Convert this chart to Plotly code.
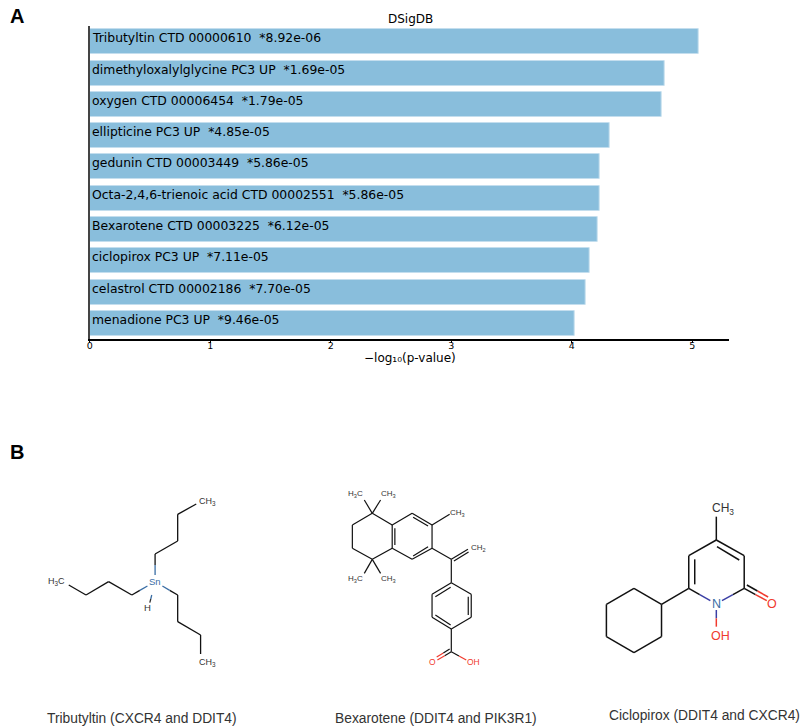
import plotly.graph_objects as go

# ---------- bar chart data ----------
terms = ["Tributyltin CTD 00000610", "dimethyloxalylglycine PC3 UP", "oxygen CTD 00006454",
         "ellipticine PC3 UP", "gedunin CTD 00003449", "Octa-2,4,6-trienoic acid CTD 00002551",
         "Bexarotene CTD 00003225", "ciclopirox PC3 UP", "celastrol CTD 00002186", "menadione PC3 UP"]
pvalues = ["8.92e-06", "1.69e-05", "1.79e-05", "4.85e-05", "5.86e-05",
           "5.86e-05", "6.12e-05", "7.11e-05", "7.70e-05", "9.46e-05"]
neglog = [5.05, 4.772, 4.747, 4.314, 4.232, 4.232, 4.213, 4.148, 4.114, 4.024]
xticks = [0, 1, 2, 3, 4, 5]

W, H = 800, 727
BLK, BLU, RED, GRY = "#111111", "#3a6ea5", "#f03a2e", "#333333"

# ---------- molecule drawings: (origin x, y), bonds as (x1,y1,x2,y2), labels (x,y,text,colour,size)
trib_origin = (30, 480)
trib_black = [(368,222,368,255),(368,222,436,183),(436,183,436,103),(436,103,492,72),
              (108,315,160,345),(160,345,228,305),(228,305,298,345),(298,345,322,331),
              (412,331,436,345),(436,345,436,425),(436,425,505,465),(505,465,505,522)]
trib_blue = [(368,255,368,285),(322,331,345,318),(390,318,412,331),(358,345,355,357)]
trib_grey = [(355,357,352,368)]
trib_labels = [(527,65,"CH<sub>3</sub>",GRY,9),(72,305,"H<sub>3</sub>C",GRY,9),(368,305,"Sn",BLU,9.5),
               (345,383,"H",GRY,9.5),(525,548,"CH<sub>3</sub>",GRY,9)]

bexa_origin = (330, 480)
bexa_black = [(122,100,62,135),(62,135,62,205),(62,205,122,238),(122,238,182,205),(182,205,182,135),(182,135,122,100),
              (182,135,242,100),(242,100,302,135),(302,135,302,205),(302,205,242,238),(242,238,182,205),
              (190,145,190,195),(245,112,290,138),(245,228,290,200),
              (302,135,355,103),(122,100,98,60),(122,100,147,60),(122,238,98,280),(122,238,147,280),
              (302,205,360,238),(360,238,410,208),(368,243,412,216),(360,238,360,308),
              (360,308,420,343),(420,343,420,412),(420,412,360,447),(360,447,302,412),(302,412,302,343),(302,343,360,308),
              (411,350,411,405),(312,405,358,435),(312,350,358,322),
              (360,447,360,515),(360,515,340,527),(355,507,336,519),(360,515,383,528)]
bexa_red = [(340,527,318,540),(336,519,316,531),(383,528,405,540)]
bexa_labels = [(70,42,"H<sub>3</sub>C",GRY,8),(172,42,"CH<sub>3</sub>",GRY,8),(380,100,"CH<sub>3</sub>",GRY,8),
               (443,205,"CH<sub>2</sub>",GRY,8),(70,297,"H<sub>3</sub>C",GRY,8),(172,297,"CH<sub>3</sub>",GRY,8),
               (302,547,"O",RED,8.5),(428,547,"OH",RED,8.5)]

cicl_origin = (595, 490)
cicl_black = [(198,343,198,440),(198,440,115,488),(115,488,32,440),(32,440,32,343),(32,343,115,295),(115,295,198,343),
              (198,343,280,295),(280,295,280,197),(280,197,363,150),(363,150,447,197),(447,197,447,295),
              (298,283,298,208),(365,170,432,210),(280,295,313,314),(413,314,447,295),
              (447,295,481,314),(455,285,487,303),(363,150,363,80)]
cicl_blue = [(313,314,345,332),(380,332,413,314),(363,360,363,385)]
cicl_red = [(481,314,515,332),(487,303,519,321),(363,385,363,410)]
cicl_labels = [(530,343,"O",RED,12.5),(363,343,"N",BLU,12.5),(375,438,"OH",RED,12.5),(383,57,"CH<sub>3</sub>",GRY,12)]

panel_letters = [(14, 16, "A"), (14, 452, "B")]
captions = [(140, 718, "Tributyltin (CXCR4 and DDIT4)"),
            (435, 718, "Bexarotene (DDIT4 and PIK3R1)"),
            (704, 715, "Ciclopirox (DDIT4 and CXCR4)")]

fig = go.Figure()

# ---------- bars ----------
fig.add_trace(go.Bar(x=neglog, y=list(range(len(terms))), orientation="h", width=0.8,
                     marker=dict(color="#89bedc", line=dict(color="#c4deee", width=1)),
                     hoverinfo="skip", showlegend=False))

annotations = []
for i, (t, p) in enumerate(zip(terms, pvalues)):
    annotations.append(dict(x=0, y=i, xref="x", yref="y", text=f"{t}  *{p}", showarrow=False,
                            xanchor="left", yanchor="middle", xshift=0, yshift=4,
                            font=dict(family="DejaVu Sans", size=12.4, color="#000000")))


def draw(origin, bonds, colour, width, scale=3.0):
    xs, ys = [], []
    for x1, y1, x2, y2 in bonds:
        xs += [origin[0] + x1 / scale, origin[0] + x2 / scale, None]
        ys += [origin[1] + y1 / scale, origin[1] + y2 / scale, None]
    fig.add_trace(go.Scatter(x=xs, y=ys, mode="lines", xaxis="x2", yaxis="y2", showlegend=False,
                             hoverinfo="skip", line=dict(color=colour, width=width)))


def label(origin, items, scale=3.0):
    for x, y, txt, col, size in items:
        annotations.append(dict(x=origin[0] + x / scale, y=origin[1] + y / scale, xref="x2", yref="y2",
                                text=txt, showarrow=False, xanchor="center", yanchor="middle",
                                font=dict(family="Liberation Sans", size=size, color=col)))


draw(trib_origin, trib_black, BLK, 1.3)
draw(trib_origin, trib_blue, BLU, 1.3)
draw(trib_origin, trib_grey, GRY, 1.3)
label(trib_origin, trib_labels)
draw(bexa_origin, bexa_black, BLK, 1.2)
draw(bexa_origin, bexa_red, RED, 1.2)
label(bexa_origin, bexa_labels)
draw(cicl_origin, cicl_black, BLK, 1.5)
draw(cicl_origin, cicl_blue, "#3b3fa5", 1.5)
draw(cicl_origin, cicl_red, RED, 1.5)
label(cicl_origin, cicl_labels)

for x, y, t in panel_letters:
    annotations.append(dict(x=x, y=y, xref="x2", yref="y2", text=f"<b>{t}</b>", showarrow=False,
                            font=dict(family="Liberation Sans", size=20, color="#000000")))
for x, y, t in captions:
    annotations.append(dict(x=x, y=y, xref="x2", yref="y2", text=t, showarrow=False,
                            font=dict(family="Liberation Sans", size=13.8, color="#333333")))
annotations.append(dict(x=409, y=19, xref="x2", yref="y2", text="DSigDB", showarrow=False,
                        font=dict(family="DejaVu Sans", size=12, color="#000000")))
annotations.append(dict(x=409, y=358, xref="x2", yref="y2", text="\u2212log\u2081\u2080(p-value)", showarrow=False,
                        font=dict(family="DejaVu Sans", size=12, color="#000000")))

fig.update_layout(
    width=W, height=H, margin=dict(l=0, r=0, t=0, b=0),
    paper_bgcolor="white", plot_bgcolor="rgba(0,0,0,0)", showlegend=False, bargap=0,
    annotations=annotations,
    xaxis=dict(domain=[87 / W, 729 / W], range=[0, 5.306], tickmode="array", tickvals=xticks,
               ticks="outside", ticklen=3, tickwidth=1, tickcolor="#000000", ticklabelstandoff=-6,
               showline=True, linecolor="#000000", linewidth=1.5, showgrid=False, zeroline=False,
               tickfont=dict(family="DejaVu Sans", size=9.5, color="#000000"), anchor="y"),
    yaxis=dict(domain=[1 - 338.6 / H, 1 - 26 / H], range=[9.49, -0.51], showticklabels=False, ticks="",
               showline=True, linecolor="#444444", linewidth=1.7, showgrid=False, zeroline=False, anchor="x"),
    xaxis2=dict(domain=[0, 1], range=[0, W], visible=False, anchor="y2"),
    yaxis2=dict(domain=[0, 1], range=[H, 0], visible=False, anchor="x2"),
)

fig.write_html("out.html", config=dict(displayModeBar=False),
               post_script="document.body.style.margin='0';document.body.style.overflow='hidden';")
